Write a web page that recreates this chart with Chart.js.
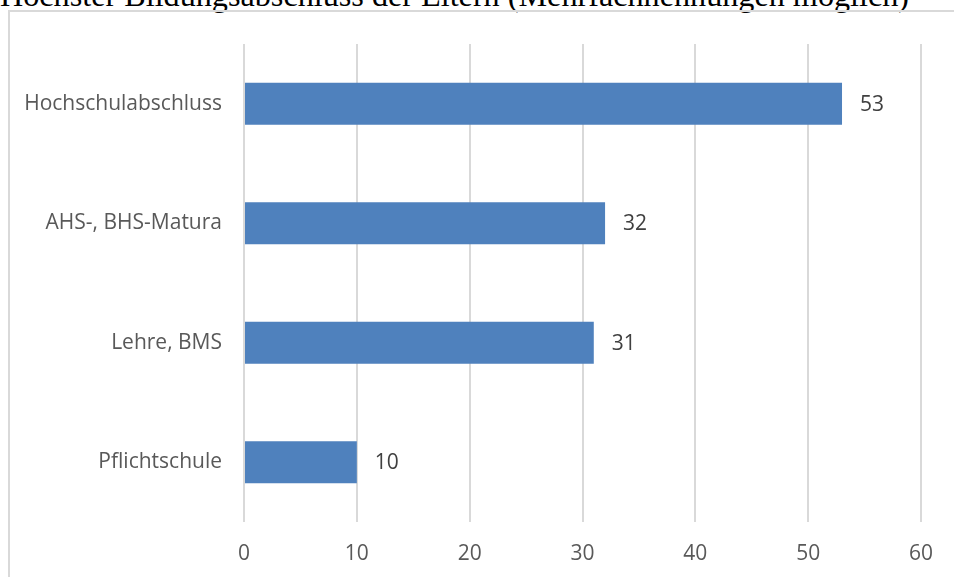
<!DOCTYPE html>
<html>
<head>
<meta charset="utf-8">
<script src="https://cdn.jsdelivr.net/npm/chart.js@4"></script>
<style>
  html, body { margin: 0; padding: 0; background: #fff; overflow: hidden; }
  #wrap { position: relative; width: 954px; height: 577px; overflow: hidden; }
  #title {
    position: absolute; left: 0; top: -23px; white-space: nowrap;
    font-family: "Liberation Serif", "Times New Roman", serif; font-size: 32.2px; color: #000;
  }
  #frame {
    position: absolute; left: 8px; top: 10px; width: 1000px; height: 700px;
    border: 2px solid #d9d9d9; box-sizing: border-box;
  }
  #chart-box { position: absolute; left: 0; top: 0; width: 954px; height: 577px; }
</style>
</head>
<body>
<div id="wrap">
  <div id="title">Höchster Bildungsabschluss der Eltern (Mehrfachnennungen möglich)</div>
  <div id="frame"></div>
  <div id="chart-box"><canvas id="edu-chart" width="954" height="577"></canvas></div>
</div>
<script>
const categories = ["Hochschulabschluss", "AHS-, BHS-Matura", "Lehre, BMS", "Pflichtschule"];
const values = [53, 32, 31, 10];
const xTicks = [0, 10, 20, 30, 40, 50, 60];

const labelFont = { family: "'Open Sans', Lato, sans-serif", size: 21 };

// value labels to the right of each bar
const valueLabels = {
  id: "valueLabels",
  afterDatasetsDraw(chart) {
    const ctx = chart.ctx;
    const meta = chart.getDatasetMeta(0);
    ctx.save();
    ctx.fillStyle = "#404040";
    ctx.font = labelFont.size + "px " + labelFont.family;
    ctx.textAlign = "left";
    ctx.textBaseline = "middle";
    meta.data.forEach((bar, i) => {
      ctx.fillText(values[i], bar.x + 18, bar.y + 1);
    });
    ctx.restore();
  }
};

const eduChart = new Chart(document.querySelector("#edu-chart"), {
  type: "bar",
  data: {
    labels: categories,
    datasets: [
      {
        data: values,
        backgroundColor: "#4f81bd",
        categoryPercentage: 1,
        barPercentage: 0.35,
      },
    ],
  },
  options: {
    indexAxis: "y",
    responsive: false,
    animation: false,
    layout: { padding: { left: 0, right: 33, top: 44, bottom: 0 } },
    plugins: {
      legend: { display: false },
      tooltip: { enabled: false },
    },
    scales: {
      x: {
        min: 0,
        max: 60,
        afterBuildTicks: (s) => { s.ticks = xTicks.map((v) => ({ value: v })); },
        afterFit: (s) => { s.height = 55; },
        grid: { color: "#d9d9d9", lineWidth: 2, drawTicks: false },
        border: { display: false },
        ticks: { color: "#595959", font: labelFont, padding: 19 },
      },
      y: {
        afterFit: (s) => { s.width = 244; },
        grid: { display: false, drawTicks: false },
        border: { display: false },
        ticks: { color: "#595959", font: labelFont, padding: 22 },
      },
    },
  },
  plugins: [valueLabels],
});
</script>
</body>
</html>
